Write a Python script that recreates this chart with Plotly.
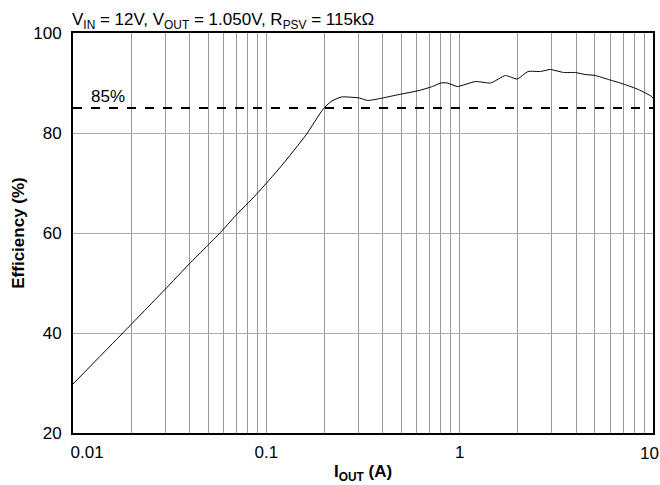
import plotly.graph_objects as go

# Data
current_a = [0.01, 0.0182, 0.0299, 0.0399, 0.0491, 0.0579, 0.0687, 0.0887, 0.119, 0.161,
             0.196, 0.216, 0.244, 0.303, 0.334, 0.399, 0.486, 0.617, 0.723, 0.798,
             0.863, 0.973, 1.208, 1.445, 1.726, 1.982, 2.259, 2.618, 2.944, 3.451,
             3.963, 4.457, 5.023, 5.888, 7.031, 8.395, 9.84, 10.0]
efficiency = [29.8, 40.1, 48.7, 53.8, 57.3, 60.1, 63.3, 67.7, 73.3, 79.7,
              84.7, 86.3, 87.2, 87.0, 86.5, 87.0, 87.7, 88.5, 89.3, 90.0,
              90.0, 89.3, 90.3, 90.0, 91.5, 90.8, 92.3, 92.3, 92.7, 92.1,
              92.1, 91.7, 91.5, 90.7, 89.8, 88.7, 87.3, 87.0]
ref_level = 85
x_ticks = [0.01, 0.1, 1, 10]
NB = "\u00a0"
x_tick_text = [NB * 6 + "0.01", "0.1", "1", ""]
last_tick_label = "10"
y_ticks = [20, 40, 60, 80, 100]
minor_x = [m * d for d in [0.01, 0.1, 1] for m in range(2, 10)]

FONT = "Liberation Sans, Arial, sans-serif"
FS = 17

fig = go.Figure()
fig.add_trace(go.Scatter(x=current_a, y=efficiency, mode="lines",
                         line=dict(color="black", width=1, shape="spline", smoothing=0.5),
                         showlegend=False))
fig.add_hline(y=ref_level, line=dict(color="black", width=2, dash="dash"))
fig.add_annotation(x=-1.916, y=ref_level, xref="x", yref="y", text="85%",
                   showarrow=False, xanchor="left", yanchor="bottom", yshift=0,
                   font=dict(size=FS, color="black", family=FONT))
# last x tick label, kept inside the page like the reference
fig.add_annotation(x=1, y=0, xref="x", yref="paper", text=last_tick_label,
                   showarrow=False, xanchor="right", yanchor="top", xshift=8, yshift=-9,
                   font=dict(size=FS, color="black", family=FONT))

fig.update_layout(
    width=660, height=485,
    margin=dict(l=73, r=7, t=33, b=52, pad=0),
    paper_bgcolor="white", plot_bgcolor="white",
    font=dict(family=FONT, size=FS, color="black"),
    title=dict(text="V<sub>IN</sub> = 12V, V<sub>OUT</sub> = 1.050V, R<sub>PSV</sub> = 115kΩ",
               x=72 / 660, xanchor="left", y=1 - 19 / 485, yanchor="middle",
               font=dict(size=FS, family=FONT)),
    xaxis=dict(type="log", range=[-2, 1], tickmode="array", tickvals=x_ticks,
               ticktext=x_tick_text, showgrid=True, gridcolor="#999999", gridwidth=1,
               minor=dict(tickmode="array", tickvals=minor_x, showgrid=True,
                          gridcolor="#999999", gridwidth=1, ticks=""),
               showline=True, linecolor="black", linewidth=2, mirror=True,
               ticks="", zeroline=False, automargin=False, ticklabelstandoff=3,
               title=dict(text="<b>I<sub>OUT</sub> (A)</b>", standoff=4,
                          font=dict(size=FS, family=FONT))),
    yaxis=dict(range=[20, 100], tickmode="array", tickvals=y_ticks,
               showgrid=True, gridcolor="#aaaaaa", gridwidth=1,
               showline=True, linecolor="black", linewidth=2, mirror=True,
               ticks="", zeroline=False, ticklabelstandoff=6, automargin=False,
               title=dict(text="<b>Efficiency (%)</b>", standoff=4,
                          font=dict(size=FS, family=FONT))),
)

fig.write_html("out.html")
